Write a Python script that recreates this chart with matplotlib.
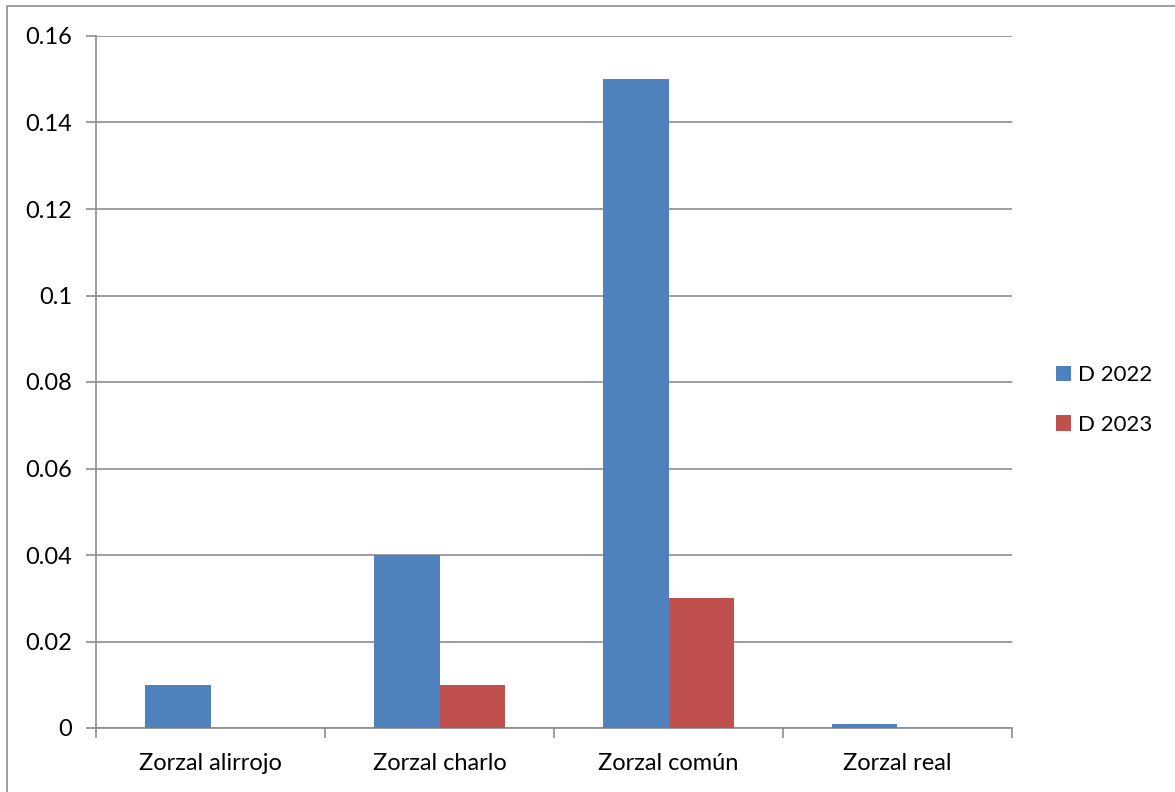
import matplotlib
matplotlib.use("Agg")
import matplotlib.pyplot as plt
import numpy as np
from matplotlib.patches import Rectangle

categories = ["Zorzal alirrojo", "Zorzal charlo", "Zorzal común", "Zorzal real"]
d2022 = [0.01, 0.04, 0.15, 0.001]
d2023 = [0.0, 0.01, 0.03, 0.0]
series_names = ["D 2022", "D 2023"]
yticks = [0, 0.02, 0.04, 0.06, 0.08, 0.1, 0.12, 0.14, 0.16]
ytick_labels = ["0", "0.02", "0.04", "0.06", "0.08", "0.1", "0.12", "0.14", "0.16"]

plt.rcParams['font.family'] = ['Lato', 'DejaVu Sans']
FS = 17
W, H = 1175, 792
fig = plt.figure(figsize=(W/100, H/100), dpi=100)
fig.patches.append(Rectangle((7/W, -0.1), 1.2, 1.1 - 6/H, transform=fig.transFigure,
                             fill=False, edgecolor='#8c8c8c', linewidth=1.2, zorder=0))
ax = fig.add_axes([96/W, 1 - 728/H, (1012-96)/W, (728-36)/H])

x = np.arange(len(categories))
bw = 0.288
c_blue = '#4F81BD'
c_red = '#C0504D'
ax.bar(x - bw/2, d2022, bw, color=c_blue, label=series_names[0], zorder=3)
ax.bar(x + bw/2, d2023, bw, color=c_red, label=series_names[1], zorder=3)

ax.set_xlim(-0.5, len(categories) - 0.5)
ax.set_ylim(0, 0.16)
ax.set_yticks(yticks)
ax.set_yticklabels(ytick_labels, fontsize=FS)
ax.yaxis.grid(True, color='#8c8c8c', linewidth=1.2, zorder=0)
ax.set_xticks(x)
ax.set_xticklabels(categories, fontsize=FS)
ax.tick_params(axis='x', which='major', length=0, pad=18)
ax.set_xticks(np.arange(len(categories) + 1) - 0.5, minor=True)
ax.tick_params(axis='x', which='minor', length=7, color='#8c8c8c', width=1.2)
ax.tick_params(axis='y', length=7, color='#8c8c8c', width=1.2, pad=10)
for s in ['top', 'right']:
    ax.spines[s].set_visible(False)
for s in ['left', 'bottom']:
    ax.spines[s].set_color('#8c8c8c')
    ax.spines[s].set_linewidth(1.2)

leg = fig.legend(loc='center left', bbox_to_anchor=(1036/W, 1 - 400/H), frameon=False,
                 fontsize=16, handlelength=0.68, handleheight=0.68, handletextpad=0.32,
                 labelspacing=1.32)

fig.savefig("out.png", dpi=100)
